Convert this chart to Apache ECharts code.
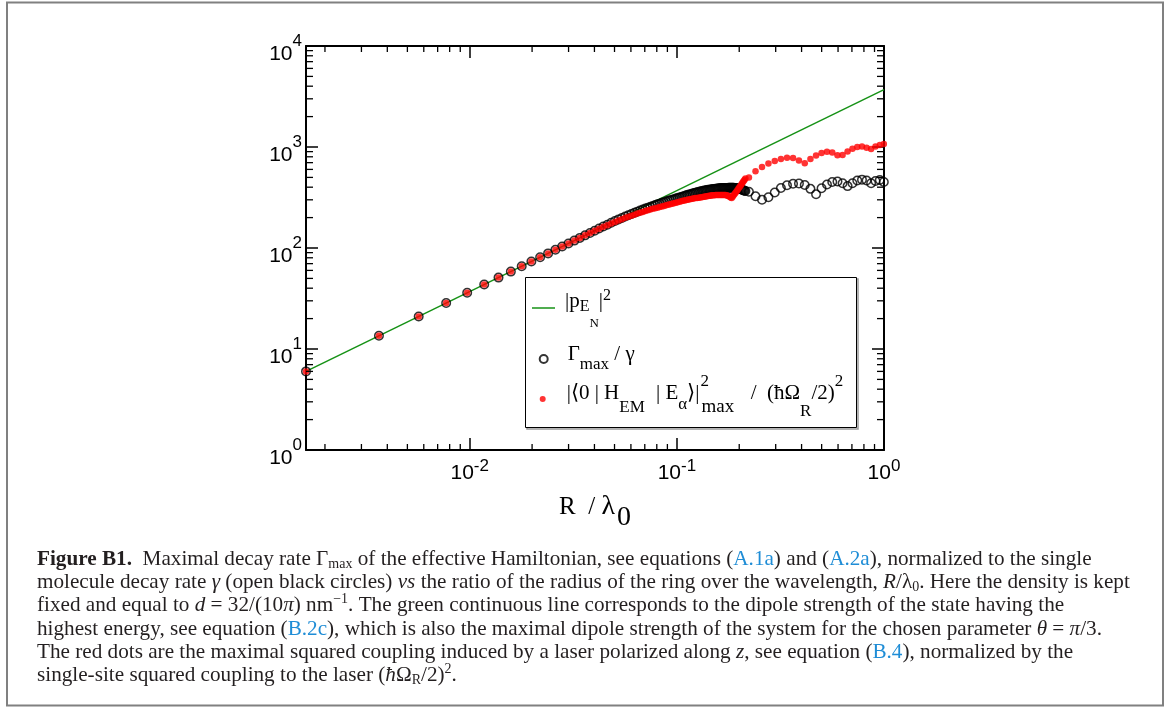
<!DOCTYPE html>
<html><head><meta charset="utf-8">
<script src="https://cdn.jsdelivr.net/npm/echarts@6/dist/echarts.min.js"></script>
<style>html,body{margin:0;padding:0;background:#fff}#chart{width:1174px;height:713px}</style>
</head><body><div id="chart"></div>
<script>
// R / lambda_0 sample positions
const rOverLambda = [
0.00162,0.003645,0.00567,0.007695,0.00972,0.011745,0.01377,0.015795,0.01782,0.019845,
0.02187,0.023895,0.02592,0.027945,0.02997,0.031995,0.03402,0.036045,0.03807,0.040095,
0.04212,0.044145,0.04617,0.048195,0.05022,0.052245,0.05427,0.056295,0.05832,0.060345,
0.06237,0.064395,0.06642,0.068445,0.07047,0.072495,0.07452,0.076545,0.07857,0.080595,
0.08262,0.084645,0.08667,0.088695,0.09072,0.092745,0.09477,0.096795,0.09882,0.100845,
0.10287,0.104895,0.10692,0.108945,0.11097,0.112995,0.11502,0.117045,0.11907,0.121095,
0.12312,0.125145,0.12717,0.129195,0.13122,0.133245,0.13527,0.137295,0.13932,0.141345,
0.14337,0.145395,0.14742,0.149445,0.15147,0.153495,0.15552,0.157545,0.15957,0.161595,
0.16362,0.165645,0.16767,0.169695,0.17172,0.173745,0.17577,0.177795,0.17982,0.181845,
0.18387,0.185895,0.18792,0.189945,0.19197,0.193995,0.19602,0.198045,0.20007,0.202095,
0.20412,0.206145,0.20817,0.210195,0.21222,0.214245,
0.2228,0.2397,0.2577,0.2767,0.2969,0.3179,0.3402,0.3638,0.3885,0.4144,
0.4414,0.4699,0.4995,0.5305,0.5626,0.5962,0.6310,0.6671,0.7043,0.7430,
0.7829,0.8241,0.8665,0.9097,0.9543,0.998
];
// Gamma_max / gamma (open black circles)
const gammaMax = [
6.0,13.5,21.0,28.5,36.0,43.5,50.9,58.4,65.9,73.4,
80.9,88.4,95.9,103.4,110.9,118.4,125.9,133.4,140.9,148.4,
156,163,170,178,185,192,198,205,211,217,
223,229,235,241,246,251,256,261,266,271,
275,280,284,289,293,297,301,304,309,312,
316,320,324,328,332,336,339,343,347,350,
353,357,359,362,365,367,370,372,375,377,
378,380,381,383,384,386,387,389,390,391,
392,392,393,393,393,393,393,395,395,395,
395,395,394,393,392,391,390,388,386,384,
381,378,375,372,369,366,
360,325,300,318,355,392,418,433,436,420,
385,340,390,425,450,455,438,410,438,465,
475,465,437,460,472,450
];
// |<0|H_EM|E_alpha>|^2_max / (hbar Omega_R / 2)^2 (red dots)
const coupling = [
6.0,13.5,21.0,28.5,36.0,43.5,50.9,58.4,65.9,73.4,
80.9,88.4,95.9,103.4,110.9,118.4,125.9,133.4,140.9,148.4,
155,162,168,175,181,187,193,199,204,209,
214,219,223,227,232,236,240,244,247,251,
255,258,261,265,268,271,275,278,281,284,
287,290,293,296,299,301,303,305,308,310,
312,313,315,317,318,320,322,324,326,327,
329,330,332,333,333,334,334,335,335,335,
335,335,335,335,334,332,330,327,322,317,
312,322,332,342,352,363,374,385,397,409,
421,434,447,461,475,489,
500,575,635,685,725,760,782,778,735,690,
762,825,872,895,880,830,835,905,960,1000,
1010,985,955,1010,1045,1070
];
// |p_EN|^2 (green line) end points
const dipoleX = [0.00162, 1.0];
const dipoleY = [6.0, 3700];

const xAxisMin = 0.00162, xAxisMax = 1, yAxisMin = 1, yAxisMax = 10000;

function minorTickValues(lo, hi) {
  const vals = [];
  for (let e = Math.floor(Math.log10(lo)); e < Math.ceil(Math.log10(hi)); e++)
    for (let k = 2; k <= 9; k++) { const v = k * Math.pow(10, e); if (v > lo * 1.0001 && v < hi * 0.9999) vals.push(v); }
  return vals;
}
const xMinor = minorTickValues(xAxisMin, xAxisMax);
const yMinor = minorTickValues(yAxisMin, yAxisMax);

function powLabel(v) {
  const l = Math.log10(v), e = Math.round(l);
  if (Math.abs(l - e) > 1e-6) return '';
  return '{b|10}{s|' + (e < 0 ? '-' + (-e) : e) + '}';
}

const chart = echarts.init(document.getElementById('chart'), null, {renderer: 'canvas'});
const sans = 'Liberation Sans', serif = 'Liberation Serif';
const axisCommon = {
  type: 'log', logBase: 10,
  axisLine: {show: true, onZero: false, lineStyle: {color: '#000', width: 2}},
  axisTick: {show: true, inside: true, length: 12, lineStyle: {color: '#000', width: 1.5}},
  splitLine: {show: false}, minorTick: {show: false}, minorSplitLine: {show: false}
};
const tickColor = '#000';
function xMinorRender(params, api) {
  const cs = params.coordSys;
  const px = api.coord([api.value(0), 10])[0];
  const b = cs.y + cs.height, t = cs.y, len = 6;
  return {type: 'group', children: [
    {type: 'line', shape: {x1: px, y1: b, x2: px, y2: b - len}, style: {stroke: tickColor, lineWidth: 1.3}},
    {type: 'line', shape: {x1: px, y1: t, x2: px, y2: t + len}, style: {stroke: tickColor, lineWidth: 1.3}}
  ]};
}
function yMinorRender(params, api) {
  const cs = params.coordSys;
  const py = api.coord([0.01, api.value(1)])[1];
  const l = cs.x, r = cs.x + cs.width, len = 7;
  return {type: 'group', children: [
    {type: 'line', shape: {x1: l, y1: py, x2: l + len, y2: py}, style: {stroke: tickColor, lineWidth: 1.3}},
    {type: 'line', shape: {x1: r, y1: py, x2: r - len, y2: py}, style: {stroke: tickColor, lineWidth: 1.3}}
  ]};
}

const captionLines = [
 '{b|Figure B1.}{n|  Maximal decay rate Γ}{sub|max}{n| of the effective Hamiltonian, see equations (}{l|A.1a}{n|) and (}{l|A.2a}{n|), normalized to the single}',
 '{n|molecule decay rate }{i|γ}{n| (open black circles) }{i|vs}{n| the ratio of the radius of the ring over the wavelength, }{i|R}{n|/λ}{sub|0}{n|. Here the density is kept}',
 '{n|fixed and equal to }{i|d}{n| = 32/(10}{i|π}{n|) nm}{sup|−1}{n|. The green continuous line corresponds to the dipole strength of the state having the}',
 '{n|highest energy, see equation (}{l|B.2c}{n|), which is also the maximal dipole strength of the system for the chosen parameter }{i|θ}{n| = }{i|π}{n|/3.}',
 '{n|The red dots are the maximal squared coupling induced by a laser polarized along }{i|z}{n|, see equation (}{l|B.4}{n|), normalized by the}',
 '{n|single-site squared coupling to the laser (}{i|ħ}{n|Ω}{sub|R}{n|/2)}{sup|2}{n|.}'
];
const capFS = 21.2, capLH = 23.2, capColor = '#231f20';
const capRich = {
  n: {fontFamily: serif, fontSize: capFS, lineHeight: capLH, fill: capColor},
  b: {fontFamily: serif, fontSize: capFS, fontWeight: 'bold', lineHeight: capLH, fill: capColor},
  i: {fontFamily: serif, fontSize: capFS, fontStyle: 'italic', lineHeight: capLH, fill: capColor},
  l: {fontFamily: serif, fontSize: capFS, lineHeight: capLH, fill: '#1f8dd6'},
  sub: {fontFamily: serif, fontSize: 14, lineHeight: capLH, padding: [9, 0, 0, 0], fill: capColor},
  sup: {fontFamily: serif, fontSize: 14, lineHeight: capLH, padding: [0, 0, 13, 0], fill: capColor}
};

const legendText = {
  dipole: '{n0|\u007Cp}{e|E}{nn|N}{n|\u007C}{sup|2}',
  gamma: '{g0|Γ}{sub|max}{g| / γ}',
  coupling: '{h0|\u007C\u27E80 \u007C H}{s1|EM}{h| \u007C E}{s2|α}{h|\u27E9\u007C}{sp|2}{sb|max}{h|  /  (ħΩ}{s3|R}{h|/2)}{sp2|2}'
};
const lf = (fs, pad) => ({fontFamily: serif, fontSize: fs, color: '#000', padding: pad});
const legendBase = {orient: 'vertical', padding: 0, selectedMode: false, itemGap: 0, z: 6,
  formatter: name => legendText[name]};

chart.setOption({
  animation: false,
  backgroundColor: '#fff',
  grid: {left: 306, top: 46, width: 578, height: 404, containLabel: false, outerBoundsMode: 'none'},
  xAxis: [
    Object.assign({}, axisCommon, {
      position: 'bottom', min: xAxisMin, max: xAxisMax,
      axisLabel: {margin: 8, formatter: powLabel, color: '#000',
        rich: {b: {fontFamily: sans, fontSize: 21, color: '#000'},
               s: {fontFamily: sans, fontSize: 17, color: '#000', padding: [0, 0, 14, 0]}}},
      name: '{r|R}{m|  / }{l|λ}{s|0}', nameLocation: 'middle', nameGap: 32,
      nameTextStyle: {rich: {r: {fontFamily: serif, fontSize: 25, color: '#000'},
                             m: {fontFamily: serif, fontSize: 25, color: '#000'},
                             l: {fontFamily: serif, fontSize: 28, color: '#000'},
                             s: {fontFamily: serif, fontSize: 28, color: '#000', padding: [22, 0, 0, 2]}}}
    }),
    Object.assign({}, axisCommon, {position: 'top', min: xAxisMin, max: xAxisMax, axisLabel: {show: false}})
  ],
  yAxis: [
    Object.assign({}, axisCommon, {
      position: 'left', min: yAxisMin, max: yAxisMax,
      axisLabel: {margin: 4, formatter: powLabel, color: '#000',
        rich: {b: {fontFamily: sans, fontSize: 21, color: '#000', padding: [16, 0, 0, 0]},
               s: {fontFamily: sans, fontSize: 17, color: '#000', padding: [0, 0, 10, 0]}}}
    }),
    Object.assign({}, axisCommon, {position: 'right', min: yAxisMin, max: yAxisMax, axisLabel: {show: false}})
  ],
  legend: [
    Object.assign({}, legendBase, {data: [{name: 'dipole', icon: 'rect'}], left: 532, top: 288, itemWidth: 23, itemHeight: 1.5,
      textStyle: {fontFamily: serif, fontSize: 21, color: '#000', rich: {
        n0: lf(21, [0, 0, 14, 5]), n: lf(21, [0, 0, 14, 0]), e: lf(16, [0, 0, 2, 0]),
        nn: lf(13, [31, 0, 0, 0]), sup: lf(16, [0, 0, 24, 0])}}}),
    Object.assign({}, legendBase, {data: ['gamma'], left: 538.7, top: 343.5, itemWidth: 8, itemHeight: 8,
      textStyle: {fontFamily: serif, fontSize: 21, color: '#000', rich: {
        g0: lf(21, [0, 0, 10, 15]), g: lf(21, [0, 0, 10, 0]), sub: lf(17, [11, 0, 0, 0])}}}),
    Object.assign({}, legendBase, {data: ['coupling'], left: 539.7, top: 373, itemWidth: 6, itemHeight: 6,
      textStyle: {fontFamily: serif, fontSize: 21, color: '#000', rich: {
        h0: lf(21, [0, 0, 12, 16]), h: lf(21, [0, 0, 12, 0]), s1: lf(17, [17, 6, 0, 0]),
        s2: lf(17, [11, 0, 0, 0]), sp: lf(17, [0, -8.5, 35, 1]), sb: lf(19, [17, 6, 0, 1]),
        s3: lf(17, [25, 0, 0, 0]), sp2: lf(17, [0, 0, 35, 0])}}})
  ],
  graphic: [
    {type: 'rect', z: 0, silent: true, shape: {x: 7, y: 2.5, width: 1156, height: 703},
     style: {fill: 'none', stroke: '#808080', lineWidth: 2}},
    {type: 'rect', z: 4, silent: true, shape: {x: 527, y: 279, width: 331, height: 150},
     style: {fill: 'none', stroke: '#9a9a9a', lineWidth: 1.5}},
    {type: 'rect', z: 5, silent: true, shape: {x: 525.5, y: 277.5, width: 331, height: 150},
     style: {fill: '#fff', stroke: '#000', lineWidth: 1}},
    {type: 'text', z: 5, silent: true, left: 37, top: 548,
     style: {text: captionLines.join('\n'), rich: capRich, fontFamily: serif, fontSize: capFS, fill: capColor}}
  ],
  series: [
    {name: 'dipole', type: 'line', z: 1, symbol: 'none', silent: true,
     data: dipoleX.map((x, i) => [x, dipoleY[i]]),
     lineStyle: {color: '#169216', width: 1.5}, itemStyle: {color: '#169216'}},
    {name: 'gamma', type: 'scatter', z: 2, symbol: 'circle', symbolSize: 8.5, silent: true,
     data: rOverLambda.map((x, i) => [x, gammaMax[i]]),
     itemStyle: {color: 'rgba(255,255,255,0)', borderColor: '#000', borderWidth: 1.5}},
    {name: 'coupling', type: 'scatter', z: 3, symbol: 'circle', symbolSize: 6.5, silent: true,
     data: rOverLambda.map((x, i) => [x, coupling[i]]),
     itemStyle: {color: '#ff0000'}},
    {type: 'custom', z: 4, silent: true, clip: false, renderItem: xMinorRender,
     data: xMinor.map(v => [v, 10])},
    {type: 'custom', z: 4, silent: true, clip: false, renderItem: yMinorRender,
     data: yMinor.map(v => [0.01, v])}
  ]
});
</script></body></html>
